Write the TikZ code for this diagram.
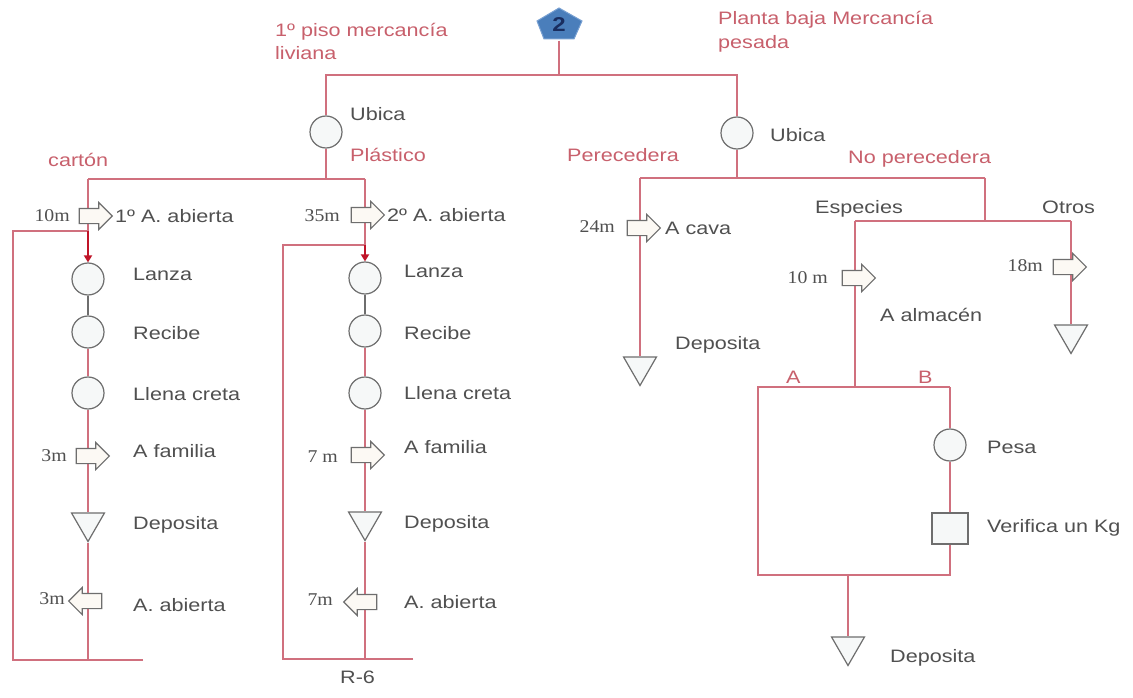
\documentclass[tikz,border=0pt]{standalone}
\usepackage{fontspec}
\setmainfont{Liberation Sans}[FakeStretch=1.2]
\newfontfamily\numfont{Liberation Serif}[FakeStretch=1.1]
\usetikzlibrary{shapes.geometric,shapes.arrows,backgrounds,arrows.meta}

\definecolor{linec}{RGB}{208,112,126}
\definecolor{redtxt}{RGB}{200,96,108}
\definecolor{darkred}{RGB}{192,20,40}
\definecolor{shapec}{RGB}{110,110,110}
\definecolor{shapefill}{RGB}{246,248,248}
\definecolor{arrfill}{RGB}{252,249,244}
\definecolor{textc}{RGB}{80,80,80}
\definecolor{pentfill}{RGB}{74,126,187}
\definecolor{pentline}{RGB}{120,160,210}
\definecolor{pentnum}{RGB}{25,45,95}

\begin{document}
\begin{tikzpicture}[x=1pt,y=-1pt,
  flow/.style={draw=linec,line width=1.6},
  grayline/.style={draw=shapec,line width=1.2},
  feed/.style={draw=darkred,line width=1.8,-{Triangle[length=7,width=8]}},
  opc/.style={circle,draw=shapec,line width=1.2,fill=shapefill,minimum size=32,inner sep=0},
  stor/.style={regular polygon,regular polygon sides=3,shape border rotate=180,draw=shapec,line width=1.2,fill=shapefill,minimum size=38,inner sep=0},
  insp/.style={rectangle,draw=shapec,line width=1.2,fill=shapefill,minimum width=36,minimum height=31,inner sep=0},
  mvr/.style={single arrow,draw=shapec,line width=1.1,fill=arrfill,minimum height=33,inner xsep=0,inner ysep=7,single arrow head extend=6},
  mvl/.style={mvr,shape border rotate=180},
  lbl/.style={text=textc,anchor=west,inner sep=0,font=\fontsize{18}{22}\selectfont,text height=13,text depth=0},
  rlbl/.style={lbl,text=redtxt},
  dist/.style={text=textc,anchor=east,inner sep=0,font=\numfont\fontsize{18}{22}\selectfont,text height=12,text depth=0},
]
\useasboundingbox (0,0) rectangle (1133,698);

% ---- header symbol ----
\path[fill=pentfill,draw=pentline,line width=1] (559,8) -- (582,21) -- (574,39) -- (544,39) -- (537,21) -- cycle;
\node[text=pentnum,font=\fontsize{20}{20}\selectfont\bfseries,inner sep=0,minimum width=45,minimum height=31] (top) at (559,25) {2};

\coordinate (h1L) at (326,75);
\coordinate (h1R) at (737,75);
\node[opc] (ubL) at (326,132) {};
\node[opc] (ubR) at (737,133) {};

% ---- light goods: two columns ----
\coordinate (h2L) at (88,179);
\coordinate (h2R) at (365,179);
\coordinate (h2m) at (326,179);

% column 1 (carton)
\node[mvr] (a1) at (92,216) {};
\coordinate (r1d) at (88,231);
\coordinate (r1c) at (13,231);
\node[opc] (lz1) at (88,279) {};
\node[opc] (rc1) at (88,332) {};
\node[opc] (ll1) at (88,393) {};
\node[mvr] (af1) at (89,456) {};
\node[stor] (dp1) at (88,522.5) {};
\node[mvl] (ab1) at (89,601) {};
\coordinate (b1) at (88,660);
\coordinate (b1L) at (13,660);
\coordinate (b1R) at (143,660);

% column 2 (plastic)
\node[mvr] (a2) at (364,215) {};
\coordinate (r2d) at (365,245);
\coordinate (r2c) at (283,245);
\node[opc] (lz2) at (365,278) {};
\node[opc] (rc2) at (365,331) {};
\node[opc] (ll2) at (365,393) {};
\node[mvr] (af2) at (364,455) {};
\node[stor] (dp2) at (365,521.5) {};
\node[mvl] (ab2) at (364,602) {};
\coordinate (b2) at (365,659);
\coordinate (b2L) at (283,659);
\coordinate (b2R) at (413,659);

% ---- heavy goods ----
\coordinate (h2P) at (640,178);
\coordinate (h2N) at (985,178);
\coordinate (h2u) at (737,178);
\node[mvr] (a3) at (640,228) {};
\node[stor] (dp3) at (640,366.5) {};

\coordinate (h3E) at (855,221);
\coordinate (h3O) at (1071,221);
\coordinate (h3m) at (985,221);
\node[mvr] (a4) at (855,278) {};
\node[mvr] (a5) at (1066,267) {};
\node[stor] (dp4) at (1071,334.5) {};

\coordinate (bxT) at (855,387);
\coordinate (bxTL) at (758,387);
\coordinate (bxTR) at (950,387);
\coordinate (bxBL) at (758,575);
\coordinate (bxBR) at (950,575);
\coordinate (bxB) at (848,575);
\node[opc] (ps) at (950,445) {};
\node[insp] (vk) at (950,528.5) {};
\node[stor] (dp5) at (848,646.5) {};

% ---- connectors ----
\begin{pgfonlayer}{background}
  \fill[white] (0,0) rectangle (1133,698);
  \draw[flow] (top.south) -- (top.south |- h1L);
  \draw[flow] (ubL) -- (h1L) -- (h1R) -- (ubR);
  \draw[flow] (ubL) -- (h2m);
  \draw[flow] (h2L) -- (h2R);

  \draw[flow] (h2L) -- (r1d);
  \draw[flow] (b1R) -- (b1L) -- (r1c) -- (r1d);
  \draw[grayline] (lz1) -- (rc1);
  \draw[flow] (rc1) -- (ll1) -- (dp1) -- (b1);

  \draw[flow] (h2R) -- (r2d);
  \draw[flow] (b2R) -- (b2L) -- (r2c) -- (r2d);
  \draw[grayline] (lz2) -- (rc2);
  \draw[flow] (rc2) -- (ll2) -- (dp2) -- (b2);

  \draw[flow] (ubR) -- (h2u);
  \draw[flow] (h2P) -- (h2N);
  \draw[flow] (h2P) -- (dp3);
  \draw[flow] (h2N) -- (h3m);
  \draw[flow] (h3E) -- (h3O);
  \draw[flow] (h3E) -- (bxT);
  \draw[flow] (h3O) -- (dp4);
  \draw[flow] (bxTR) -- (bxTL) -- (bxBL) -- (bxBR) -- (vk) -- (ps) -- (bxTR);
  \draw[flow] (bxB) -- (dp5);
\end{pgfonlayer}
\draw[feed] (r1d) -- (lz1);
\draw[feed] (r2d) -- (lz2);

% ---- labels ----
\node[rlbl] (t1a) at (275,30) {1º piso mercancía};
\node[rlbl] (t1b) at (275,53) {liviana};
\node[rlbl] (t2a) at (718,18) {Planta baja Mercancía};
\node[rlbl] (t2b) at (718,42) {pesada};
\node[lbl] (tub1) at (350,114) {Ubica};
\node[lbl] (tub2) at (770,135) {Ubica};
\node[rlbl] (tca) at (48,160) {cartón};
\node[rlbl] (tpl) at (350,155) {Plástico};
\node[rlbl] (tpe) at (567,155) {Perecedera};
\node[rlbl] (tnp) at (848,157) {No perecedera};

\node[lbl] (c1a) at (115,216) {1º A. abierta};
\node[lbl] (c1b) at (133,274) {Lanza};
\node[lbl] (c1c) at (133,333) {Recibe};
\node[lbl] (c1d) at (133,394) {Llena creta};
\node[lbl] (c1e) at (133,451) {A familia};
\node[lbl] (c1f) at (133,523) {Deposita};
\node[lbl] (c1g) at (133,605) {A. abierta};

\node[lbl] (c2a) at (387,215) {2º A. abierta};
\node[lbl] (c2b) at (404,271) {Lanza};
\node[lbl] (c2c) at (404,333) {Recibe};
\node[lbl] (c2d) at (404,393) {Llena creta};
\node[lbl] (c2e) at (404,447) {A familia};
\node[lbl] (c2f) at (404,522) {Deposita};
\node[lbl] (c2g) at (404,602) {A. abierta};
\node[lbl] (r6) at (340,677) {R-6};

\node[lbl] (p1) at (665,228) {A cava};
\node[lbl] (p2) at (675,343) {Deposita};
\node[lbl] (n1) at (815,207) {Especies};
\node[lbl] (n2) at (1042,207) {Otros};
\node[lbl] (n3) at (880,315) {A almacén};
\node[rlbl] (na) at (786,377) {A};
\node[rlbl] (nb) at (918,377) {B};
\node[lbl] (n4) at (987,447) {Pesa};
\node[lbl] (n5) at (987,526) {Verifica un Kg};
\node[lbl] (n6) at (890,656) {Deposita};

\node[dist] (d1) at (70,216) {10m};
\node[dist] (d2) at (340,215) {35m};
\node[dist] (d3) at (67,455) {3m};
\node[dist] (d4) at (65,598) {3m};
\node[dist] (d5) at (338,456) {7 m};
\node[dist] (d6) at (333,599) {7m};
\node[dist] (d7) at (615,226) {24m};
\node[dist] (d8) at (828,277) {10 m};
\node[dist] (d9) at (1043,265) {18m};
\end{tikzpicture}
\end{document}
